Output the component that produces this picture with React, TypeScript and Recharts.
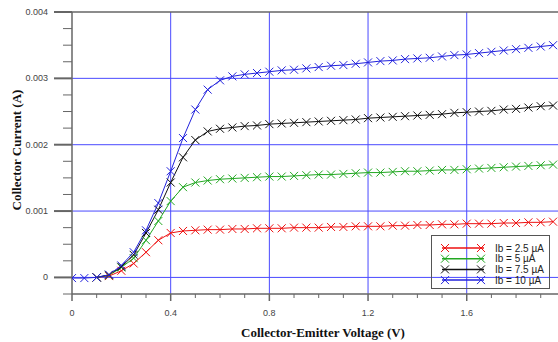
import { LineChart, Line, XAxis, YAxis, ReferenceLine } from 'recharts';

const voltage = [
  0, 0.05, 0.1, 0.15, 0.2, 0.25, 0.3, 0.35, 0.4, 0.45,
  0.5, 0.55, 0.6, 0.65, 0.7, 0.75, 0.8, 0.85, 0.9, 0.95,
  1.0, 1.05, 1.1, 1.15, 1.2, 1.25, 1.3, 1.35, 1.4, 1.45,
  1.5, 1.55, 1.6, 1.65, 1.7, 1.75, 1.8, 1.85, 1.9, 1.95,
];

const ib25 = [
  null, null, 0, 0.00002, 0.0001, 0.00021, 0.00038, 0.00056, 0.00067, 0.0007,
  0.00071, 0.00072, 0.00072, 0.00073, 0.00073, 0.00074, 0.00074, 0.00074, 0.00075, 0.00075,
  0.00075, 0.00076, 0.00076, 0.00077, 0.00077, 0.00077, 0.00078, 0.00078, 0.00079, 0.00079,
  0.0008, 0.0008, 0.00081, 0.00081, 0.00081, 0.00082, 0.00082, 0.00083, 0.00083, 0.00084,
];

const ib5 = [
  null, null, 0, 0.00003, 0.00015, 0.00029, 0.00056, 0.00085, 0.00115, 0.00136,
  0.00143, 0.00146, 0.00148, 0.00149, 0.0015, 0.00151, 0.00152, 0.00152, 0.00153, 0.00154,
  0.00155, 0.00155, 0.00156, 0.00157, 0.00158, 0.00158, 0.00159, 0.0016, 0.0016, 0.00161,
  0.00162, 0.00162, 0.00163, 0.00164, 0.00165, 0.00166, 0.00167, 0.00168, 0.00169, 0.0017,
];

const ib75 = [
  null, null, 0, 0.00004, 0.00016, 0.00034, 0.00067, 0.00102, 0.00143, 0.00181,
  0.00207, 0.0022, 0.00224, 0.00226, 0.00228, 0.00229, 0.00231, 0.00232, 0.00233, 0.00234,
  0.00235, 0.00236, 0.00237, 0.00238, 0.0024, 0.00241, 0.00242, 0.00243, 0.00244, 0.00245,
  0.00246, 0.00248, 0.00249, 0.0025, 0.00251, 0.00253, 0.00254, 0.00256, 0.00258, 0.00259,
];

const ib10 = [
  -0.00001, -0.00001, 0, 0.00004, 0.00018, 0.00038, 0.00071, 0.00112, 0.0016, 0.0021,
  0.00253, 0.00283, 0.00297, 0.00303, 0.00306, 0.00308, 0.0031, 0.00312, 0.00313, 0.00315,
  0.00317, 0.00319, 0.0032, 0.00322, 0.00324, 0.00326, 0.00327, 0.00329, 0.0033, 0.00331,
  0.00333, 0.00335, 0.00336, 0.00338, 0.0034, 0.00342, 0.00344, 0.00346, 0.00348, 0.0035,
];

const seriesNames = ['Ib = 2.5 µA', 'Ib = 5 µA', 'Ib = 7.5 µA', 'Ib = 10 µA'];
const seriesKeys = ['ib25', 'ib5', 'ib75', 'ib10'];
const seriesColors = ['#ee1111', '#22a822', '#111111', '#2222dd'];

const xTicks = [0, 0.1, 0.2, 0.3, 0.4, 0.5, 0.6, 0.7, 0.8, 0.9, 1.0, 1.1, 1.2, 1.3, 1.4, 1.5, 1.6, 1.7, 1.8, 1.9];
const xMajor = [0, 0.4, 0.8, 1.2, 1.6];
const xLabels = ['0', '0.4', '0.8', '1.2', '1.6'];

const yTicks = [
  -0.00025, 0, 0.00025, 0.0005, 0.00075, 0.001, 0.00125, 0.0015, 0.00175, 0.002,
  0.00225, 0.0025, 0.00275, 0.003, 0.00325, 0.0035, 0.00375, 0.004,
];
const yMajor = [0, 0.001, 0.002, 0.003, 0.004];
const yLabels = ['0', '0.001', '0.002', '0.003', '0.004'];

const gridX = [0.4, 0.8, 1.2, 1.6];
const gridY = [0, 0.001, 0.002, 0.003];

const data = voltage.map((v, i) => ({
  v,
  ib25: ib25[i],
  ib5: ib5[i],
  ib75: ib75[i],
  ib10: ib10[i],
}));

const axisColor = '#666';
const gridColor = '#4a4aff';
const tickFont = { fontFamily: 'Liberation Sans, Arial, sans-serif', fontSize: 9, fill: '#444' };

const XMark = ({ cx, cy, color, r = 4 }: any) => {
  if (cx == null || cy == null || isNaN(cx) || isNaN(cy)) return null;
  return (
    <g stroke={color} strokeWidth={1}>
      <line x1={cx - r} y1={cy - r} x2={cx + r} y2={cy + r} />
      <line x1={cx - r} y1={cy + r} x2={cx + r} y2={cy - r} />
    </g>
  );
};

const YTick = ({ x, y, payload }: any) => {
  const i = yMajor.indexOf(payload.value);
  const len = i >= 0 ? 18 : 9;
  return (
    <g>
      <line x1={x - len} y1={y} x2={x} y2={y} stroke={axisColor} strokeWidth={i >= 0 ? 2 : 1} />
      {i >= 0 && (
        <text x={x - 24} y={y} dy={3} textAnchor="end" {...tickFont}>
          {yLabels[i]}
        </text>
      )}
    </g>
  );
};

const XTick = ({ x, y, payload }: any) => {
  const i = xMajor.indexOf(payload.value);
  const len = i >= 0 ? 7 : 4;
  return (
    <g>
      <line x1={x} y1={y} x2={x} y2={y + len} stroke={axisColor} strokeWidth={i >= 0 ? 1.5 : 1} />
      {i >= 0 && (
        <text x={x} y={y + 22} textAnchor="middle" {...tickFont}>
          {xLabels[i]}
        </text>
      )}
    </g>
  );
};

const LegendBox = () => (
  <svg
    width={119}
    height={54}
    style={{ position: 'absolute', left: 431, top: 235, overflow: 'visible' }}
  >
    <rect x={0.5} y={0.5} width={118} height={53} fill="none" stroke="#555" strokeWidth={1} />
    {seriesNames.map((name, i) => {
      const cy = 13 + i * 10.7;
      return (
        <g key={name}>
          <line x1={11} y1={cy} x2={53} y2={cy} stroke={seriesColors[i]} strokeWidth={1.5} />
          <XMark cx={14} cy={cy} color={seriesColors[i]} />
          <XMark cx={50} cy={cy} color={seriesColors[i]} />
          <text x={64} y={cy + 3.5} fontFamily="Liberation Sans, Arial, sans-serif" fontSize={10} fill="#222">
            {name}
          </text>
        </g>
      );
    })}
  </svg>
);

export default function App() {
  return (
    <div style={{ position: 'absolute', left: 0, top: 0, width: 558, height: 342, background: '#fff' }}>
      <LineChart width={558} height={342} data={data} margin={{ top: 12, right: 0, bottom: 0, left: 0 }}>
        {gridX.map((g) => (
          <ReferenceLine key={'gx' + g} x={g} stroke={gridColor} strokeWidth={1} />
        ))}
        {gridY.map((g) => (
          <ReferenceLine key={'gy' + g} y={g} stroke={gridColor} strokeWidth={1} />
        ))}
        <ReferenceLine y={0.004} stroke={axisColor} strokeWidth={1.5} />
        <XAxis
          dataKey="v"
          type="number"
          domain={[0, 1.97]}
          ticks={xTicks}
          interval={0}
          tickSize={0}
          tickMargin={0}
          tickLine={false}
          tick={<XTick />}
          height={48}
          axisLine={{ stroke: axisColor, strokeWidth: 1.5 }}
          allowDataOverflow
        />
        <YAxis
          type="number"
          domain={[-0.00025, 0.004]}
          ticks={yTicks}
          interval={0}
          tickSize={0}
          tickMargin={0}
          tickLine={false}
          tick={<YTick />}
          width={72}
          axisLine={{ stroke: axisColor, strokeWidth: 1.5 }}
          allowDataOverflow
        />
        {seriesKeys.map((k, i) => (
          <Line
            key={k}
            dataKey={k}
            stroke={seriesColors[i]}
            strokeWidth={1}
            type="linear"
            connectNulls={false}
            isAnimationActive={false}
            dot={(p: any) => <XMark key={k + p.index} cx={p.cx} cy={p.cy} color={seriesColors[i]} />}
            activeDot={false}
          />
        ))}
      </LineChart>
      <div
        style={{
          position: 'absolute',
          left: 17,
          top: 150,
          transform: 'translate(-50%, -50%) rotate(-90deg)',
          whiteSpace: 'nowrap',
          fontFamily: 'Liberation Serif, Times New Roman, serif',
          fontWeight: 'bold',
          fontSize: 13,
          color: '#111',
        }}
      >
        Collector Current (A)
      </div>
      <div
        style={{
          position: 'absolute',
          left: 323,
          top: 333,
          transform: 'translate(-50%, -50%)',
          whiteSpace: 'nowrap',
          fontFamily: 'Liberation Serif, Times New Roman, serif',
          fontWeight: 'bold',
          fontSize: 13,
          color: '#111',
        }}
      >
        Collector-Emitter Voltage (V)
      </div>
      <LegendBox />
    </div>
  );
}
